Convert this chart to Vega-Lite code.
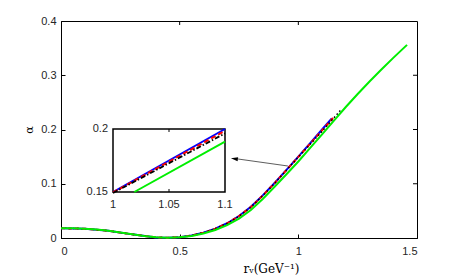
{
  "$schema": "https://vega.github.io/schema/vega-lite/v6.json",
  "width": 356,
  "height": 217,
  "autosize": {"type": "none"},
  "padding": {"left": 61, "top": 21, "right": 46, "bottom": 42},
  "background": "white",
  "config": {
    "view": {"stroke": "black", "strokeWidth": 1},
    "axis": {
      "domainColor": "black",
      "tickColor": "black",
      "labelColor": "#262626",
      "labelFont": "Liberation Sans",
      "labelFontSize": 11,
      "grid": false
    }
  },
  "datasets": {
    "main": [
      {"s": "g", "x": 0, "y": 0.018}, {"s": "g", "x": 0.05, "y": 0.0178}, {"s": "g", "x": 0.1, "y": 0.0171},
      {"s": "g", "x": 0.15, "y": 0.0157}, {"s": "g", "x": 0.2, "y": 0.0133}, {"s": "g", "x": 0.25, "y": 0.0102},
      {"s": "g", "x": 0.3, "y": 0.0068}, {"s": "g", "x": 0.35, "y": 0.0036}, {"s": "g", "x": 0.4, "y": 0.0012},
      {"s": "g", "x": 0.45, "y": 0.0003}, {"s": "g", "x": 0.5, "y": 0.0012}, {"s": "g", "x": 0.55, "y": 0.0038},
      {"s": "g", "x": 0.6, "y": 0.0082}, {"s": "g", "x": 0.65, "y": 0.0148}, {"s": "g", "x": 0.7, "y": 0.0238},
      {"s": "g", "x": 0.75, "y": 0.0358}, {"s": "g", "x": 0.8, "y": 0.0515}, {"s": "g", "x": 0.85, "y": 0.072},
      {"s": "g", "x": 0.9, "y": 0.0945}, {"s": "g", "x": 0.95, "y": 0.1175}, {"s": "g", "x": 1.0, "y": 0.141},
      {"s": "g", "x": 1.05, "y": 0.166}, {"s": "g", "x": 1.1, "y": 0.191}, {"s": "g", "x": 1.15, "y": 0.2165},
      {"s": "g", "x": 1.2, "y": 0.2415}, {"s": "g", "x": 1.25, "y": 0.2655}, {"s": "g", "x": 1.3, "y": 0.2885},
      {"s": "g", "x": 1.35, "y": 0.3105}, {"s": "g", "x": 1.4, "y": 0.332}, {"s": "g", "x": 1.458, "y": 0.356},

      {"s": "b", "x": 0, "y": 0.018}, {"s": "b", "x": 0.1, "y": 0.0171}, {"s": "b", "x": 0.2, "y": 0.0133},
      {"s": "b", "x": 0.3, "y": 0.0067}, {"s": "b", "x": 0.4, "y": 0.0011}, {"s": "b", "x": 0.45, "y": 0.0004},
      {"s": "b", "x": 0.5, "y": 0.0016}, {"s": "b", "x": 0.55, "y": 0.0046}, {"s": "b", "x": 0.6, "y": 0.0097},
      {"s": "b", "x": 0.65, "y": 0.0172}, {"s": "b", "x": 0.7, "y": 0.0272}, {"s": "b", "x": 0.75, "y": 0.0405},
      {"s": "b", "x": 0.8, "y": 0.0575}, {"s": "b", "x": 0.85, "y": 0.0785}, {"s": "b", "x": 0.9, "y": 0.1015},
      {"s": "b", "x": 0.95, "y": 0.1255}, {"s": "b", "x": 1.0, "y": 0.15}, {"s": "b", "x": 1.05, "y": 0.175},
      {"s": "b", "x": 1.1, "y": 0.2}, {"s": "b", "x": 1.141, "y": 0.2205},

      {"s": "r", "x": 0, "y": 0.018}, {"s": "r", "x": 0.1, "y": 0.0171}, {"s": "r", "x": 0.2, "y": 0.0133},
      {"s": "r", "x": 0.3, "y": 0.0067}, {"s": "r", "x": 0.4, "y": 0.0011}, {"s": "r", "x": 0.45, "y": 0.0004},
      {"s": "r", "x": 0.5, "y": 0.0016}, {"s": "r", "x": 0.55, "y": 0.0046}, {"s": "r", "x": 0.6, "y": 0.0096},
      {"s": "r", "x": 0.65, "y": 0.0171}, {"s": "r", "x": 0.7, "y": 0.027}, {"s": "r", "x": 0.75, "y": 0.0403},
      {"s": "r", "x": 0.8, "y": 0.0572}, {"s": "r", "x": 0.85, "y": 0.0782}, {"s": "r", "x": 0.9, "y": 0.1012},
      {"s": "r", "x": 0.95, "y": 0.1252}, {"s": "r", "x": 1.0, "y": 0.1495}, {"s": "r", "x": 1.05, "y": 0.174},
      {"s": "r", "x": 1.1, "y": 0.1985}, {"s": "r", "x": 1.15, "y": 0.223},

      {"s": "k", "x": 0, "y": 0.018}, {"s": "k", "x": 0.1, "y": 0.0171}, {"s": "k", "x": 0.2, "y": 0.0133},
      {"s": "k", "x": 0.3, "y": 0.0067}, {"s": "k", "x": 0.4, "y": 0.0011}, {"s": "k", "x": 0.45, "y": 0.0004},
      {"s": "k", "x": 0.5, "y": 0.0015}, {"s": "k", "x": 0.55, "y": 0.0045}, {"s": "k", "x": 0.6, "y": 0.0095},
      {"s": "k", "x": 0.65, "y": 0.017}, {"s": "k", "x": 0.7, "y": 0.0268}, {"s": "k", "x": 0.75, "y": 0.04},
      {"s": "k", "x": 0.8, "y": 0.0568}, {"s": "k", "x": 0.85, "y": 0.0778}, {"s": "k", "x": 0.9, "y": 0.1008},
      {"s": "k", "x": 0.95, "y": 0.125}, {"s": "k", "x": 1.0, "y": 0.149}, {"s": "k", "x": 1.05, "y": 0.1728},
      {"s": "k", "x": 1.1, "y": 0.1965}, {"s": "k", "x": 1.15, "y": 0.2215}, {"s": "k", "x": 1.183, "y": 0.238}
    ],
    "inset": [
      {"s": "g", "x": 1.019, "y": 0.15}, {"s": "g", "x": 1.1, "y": 0.19},
      {"s": "b", "x": 1.0, "y": 0.15}, {"s": "b", "x": 1.1, "y": 0.2},
      {"s": "r", "x": 1.0, "y": 0.1497}, {"s": "r", "x": 1.1, "y": 0.1985},
      {"s": "k", "x": 1.0, "y": 0.1492}, {"s": "k", "x": 1.1, "y": 0.1965}
    ]
  },
  "layer": [
    {
      "layer": [
        {
          "data": {"name": "main"},
          "transform": [{"filter": "datum.s === 'b'"}],
          "mark": {"type": "line", "color": "#0000ff", "strokeWidth": 2},
          "encoding": {
            "x": {
              "field": "x", "type": "quantitative",
              "scale": {"domain": [0, 1.5], "nice": false, "zero": false},
              "axis": {
                "values": [0, 0.5, 1, 1.5], "format": "~g", "tickSize": -4, "labelPadding": 11,
                "title": "rᵥ(GeV⁻¹)", "titleFont": "DejaVu Serif", "titleFontSize": 12,
                "titleFontWeight": "normal", "titleColor": "black",
                "titleX": 210, "titleY": 34, "titleAlign": "center", "titleBaseline": "alphabetic"
              }
            },
            "y": {
              "field": "y", "type": "quantitative",
              "scale": {"domain": [0, 0.4], "nice": false, "zero": false},
              "axis": {
                "values": [0, 0.1, 0.2, 0.3, 0.4], "format": "~g", "tickSize": -4, "labelPadding": 9,
                "title": "α", "titleFont": "DejaVu Serif", "titleFontSize": 11,
                "titleFontWeight": "normal", "titleColor": "black", "titlePadding": 6
              }
            },
            "order": {"field": "x", "type": "quantitative"}
          }
        },
        {
          "data": {"name": "main"},
          "transform": [{"filter": "datum.s === 'r'"}],
          "mark": {"type": "line", "color": "#ff0000", "strokeWidth": 2, "strokeDash": [4, 3]},
          "encoding": {
            "x": {"field": "x", "type": "quantitative"},
            "y": {"field": "y", "type": "quantitative"},
            "order": {"field": "x", "type": "quantitative"}
          }
        },
        {
          "data": {"name": "main"},
          "transform": [{"filter": "datum.s === 'k'"}],
          "mark": {"type": "line", "color": "black", "strokeWidth": 1.5, "strokeDash": [1.5, 2.5]},
          "encoding": {
            "x": {"field": "x", "type": "quantitative"},
            "y": {"field": "y", "type": "quantitative"},
            "order": {"field": "x", "type": "quantitative"}
          }
        },
        {
          "data": {"name": "main"},
          "transform": [{"filter": "datum.s === 'g'"}],
          "mark": {"type": "line", "color": "#00ee00", "strokeWidth": 2},
          "encoding": {
            "x": {"field": "x", "type": "quantitative"},
            "y": {"field": "y", "type": "quantitative"},
            "order": {"field": "x", "type": "quantitative"}
          }
        },
        {
          "data": {"values": [{"x": 0.956, "y": 0.1327, "x2": 0.746, "y2": 0.1456}]},
          "mark": {"type": "rule", "color": "#333333", "strokeWidth": 0.8},
          "encoding": {
            "x": {"field": "x", "type": "quantitative"},
            "y": {"field": "y", "type": "quantitative"},
            "x2": {"field": "x2"},
            "y2": {"field": "y2"}
          }
        },
        {
          "data": {"values": [{"x": 0.716, "y": 0.147}]},
          "mark": {"type": "point", "shape": "M0,0L2,-0.6L2,0.6Z", "size": 49, "filled": true, "color": "black", "opacity": 1, "angle": 8},
          "encoding": {
            "x": {"field": "x", "type": "quantitative"},
            "y": {"field": "y", "type": "quantitative"}
          }
        },
        {
          "data": {"values": [{"x": 0.5, "y": 0.4}, {"x": 1.0, "y": 0.4}]},
          "mark": {"type": "point", "shape": "M0,0L0,1", "size": 64, "color": "black", "strokeWidth": 1, "opacity": 1},
          "encoding": {
            "x": {"field": "x", "type": "quantitative"},
            "y": {"field": "y", "type": "quantitative"}
          }
        },
        {
          "data": {"values": [{"x": 1.5, "y": 0.1}, {"x": 1.5, "y": 0.2}, {"x": 1.5, "y": 0.3}]},
          "mark": {"type": "point", "shape": "M0,0L-1,0", "size": 64, "color": "black", "strokeWidth": 1, "opacity": 1},
          "encoding": {
            "x": {"field": "x", "type": "quantitative"},
            "y": {"field": "y", "type": "quantitative"}
          }
        }
      ]
    },
    {
      "layer": [
        {
          "data": {"values": [{"x": 1.0, "x2": 1.1, "y": 0.15, "y2": 0.2}]},
          "mark": {"type": "rect", "fill": "white", "stroke": "black", "strokeWidth": 1.5},
          "encoding": {
            "x": {"field": "x", "type": "quantitative", "axis": null,
                  "scale": {"domain": [0.95357, 1.27143], "nice": false, "zero": false}},
            "x2": {"field": "x2"},
            "y": {"field": "y", "type": "quantitative", "axis": null,
                  "scale": {"domain": [0.113492, 0.285714], "nice": false, "zero": false}},
            "y2": {"field": "y2"}
          }
        },
        {
          "data": {"name": "inset"},
          "transform": [{"filter": "datum.s === 'g'"}],
          "mark": {"type": "line", "color": "#00ee00", "strokeWidth": 2},
          "encoding": {
            "x": {"field": "x", "type": "quantitative"},
            "y": {"field": "y", "type": "quantitative"}
          }
        },
        {
          "data": {"name": "inset"},
          "transform": [{"filter": "datum.s === 'b'"}],
          "mark": {"type": "line", "color": "#0000ff", "strokeWidth": 2},
          "encoding": {
            "x": {"field": "x", "type": "quantitative"},
            "y": {"field": "y", "type": "quantitative"}
          }
        },
        {
          "data": {"name": "inset"},
          "transform": [{"filter": "datum.s === 'r'"}],
          "mark": {"type": "line", "color": "#ff0000", "strokeWidth": 2, "strokeDash": [5, 3]},
          "encoding": {
            "x": {"field": "x", "type": "quantitative"},
            "y": {"field": "y", "type": "quantitative"}
          }
        },
        {
          "data": {"name": "inset"},
          "transform": [{"filter": "datum.s === 'k'"}],
          "mark": {"type": "line", "color": "black", "strokeWidth": 1.8, "strokeDash": [5, 2, 1.5, 2]},
          "encoding": {
            "x": {"field": "x", "type": "quantitative"},
            "y": {"field": "y", "type": "quantitative"}
          }
        },
        {
          "data": {"values": [{"x": 1.05, "y": 0.2}]},
          "mark": {"type": "point", "shape": "M0,0L0,1", "size": 36, "color": "black", "strokeWidth": 1, "opacity": 1},
          "encoding": {
            "x": {"field": "x", "type": "quantitative"},
            "y": {"field": "y", "type": "quantitative"}
          }
        },
        {
          "data": {"values": [{"x": 1.05, "y": 0.15}]},
          "mark": {"type": "point", "shape": "M0,0L0,-1", "size": 36, "color": "black", "strokeWidth": 1, "opacity": 1},
          "encoding": {
            "x": {"field": "x", "type": "quantitative"},
            "y": {"field": "y", "type": "quantitative"}
          }
        },
        {
          "data": {"values": [{"x": 1.0, "y": 0.15, "t": "1"}, {"x": 1.05, "y": 0.15, "t": "1.05"}, {"x": 1.1, "y": 0.15, "t": "1.1"}]},
          "mark": {"type": "text", "font": "Liberation Sans", "fontSize": 11, "color": "#262626", "align": "center", "baseline": "middle", "dy": 13},
          "encoding": {
            "x": {"field": "x", "type": "quantitative"},
            "y": {"field": "y", "type": "quantitative"},
            "text": {"field": "t"}
          }
        },
        {
          "data": {"values": [{"x": 1.0, "y": 0.15, "t": "0.15"}, {"x": 1.0, "y": 0.2, "t": "0.2"}]},
          "mark": {"type": "text", "font": "Liberation Sans", "fontSize": 11, "color": "#262626", "align": "right", "baseline": "middle", "dx": -5},
          "encoding": {
            "x": {"field": "x", "type": "quantitative"},
            "y": {"field": "y", "type": "quantitative"},
            "text": {"field": "t"}
          }
        }
      ]
    }
  ],
  "resolve": {"scale": {"x": "independent", "y": "independent"}}
}
